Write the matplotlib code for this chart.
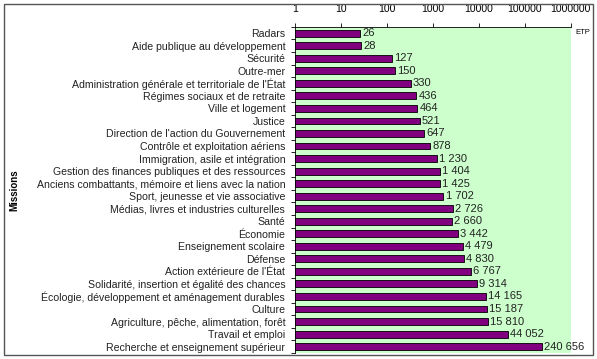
import matplotlib
matplotlib.use("Agg")
from matplotlib import pyplot as plt
from matplotlib.patches import Rectangle

plt.rcParams['font.family'] = ['Liberation Sans', 'DejaVu Sans']

missions = [
    "Radars",
    "Aide publique au développement",
    "Sécurité",
    "Outre-mer",
    "Administration générale et territoriale de l'État",
    "Régimes sociaux et de retraite",
    "Ville et logement",
    "Justice",
    "Direction de l'action du Gouvernement",
    "Contrôle et exploitation aériens",
    "Immigration, asile et intégration",
    "Gestion des finances publiques et des ressources",
    "Anciens combattants, mémoire et liens avec la nation",
    "Sport, jeunesse et vie associative",
    "Médias, livres et industries culturelles",
    "Santé",
    "Économie",
    "Enseignement scolaire",
    "Défense",
    "Action extérieure de l'État",
    "Solidarité, insertion et égalité des chances",
    "Écologie, développement et aménagement durables",
    "Culture",
    "Agriculture, pêche, alimentation, forêt",
    "Travail et emploi",
    "Recherche et enseignement supérieur",
]
etp = [26, 28, 127, 150, 330, 436, 464, 521, 647, 878, 1230, 1404, 1425,
       1702, 2726, 2660, 3442, 4479, 4830, 6767, 9314, 14165, 15187, 15810,
       44052, 240656]
xticks = [1, 10, 100, 1000, 10000, 100000, 1000000]

fig = plt.figure(figsize=(5.97, 3.59), dpi=100)
fig.patches.append(Rectangle((4 / 597, 4 / 359), 589 / 597, 351 / 359,
                             transform=fig.transFigure, fill=False,
                             edgecolor="#555555", linewidth=1.0))

ax = fig.add_axes([0.494, 0.017, 0.462, 0.908])
ax.set_facecolor("#CCFFCC")
ax.set_xscale("log")

y = list(range(len(missions)))
ax.barh(y, etp, height=0.55, color="#800080", edgecolor="black", linewidth=0.6)

for yi, v in zip(y, etp):
    ax.annotate(f"{v:,}".replace(",", " "), (v, yi), xytext=(1.5, 0),
                textcoords="offset points", va="center", ha="left",
                fontsize=8, color="#222222")

ax.set_xlim(1, 1000000)
ax.set_ylim(len(missions) - 0.5, -0.5)

ax.xaxis.tick_top()
ax.set_xticks(xticks)
ax.set_xticklabels([str(t) for t in xticks], fontsize=7.5)
ax.minorticks_off()
ax.tick_params(axis="x", length=3, width=0.6, pad=6)

ax.set_yticks(y)
ax.set_yticklabels(missions, fontsize=7.6, color="#222222")
ax.set_yticks([i + 0.5 for i in range(-1, len(missions))], minor=True)
ax.tick_params(axis="y", which="major", length=0, pad=7)
ax.tick_params(axis="y", which="minor", length=3, width=0.6)

for side in ["right", "bottom"]:
    ax.spines[side].set_visible(False)
ax.spines["top"].set_linewidth(0.6)
ax.spines["left"].set_linewidth(0.6)

fig.text(583 / 597, 1 - 32 / 359, "ETP", fontsize=5.5, ha="center", va="center")
fig.text(14 / 597, 1 - 190 / 359, "Missions", fontsize=7, fontweight="bold",
         rotation=90, ha="center", va="center")

fig.savefig("out.png", dpi=100)
